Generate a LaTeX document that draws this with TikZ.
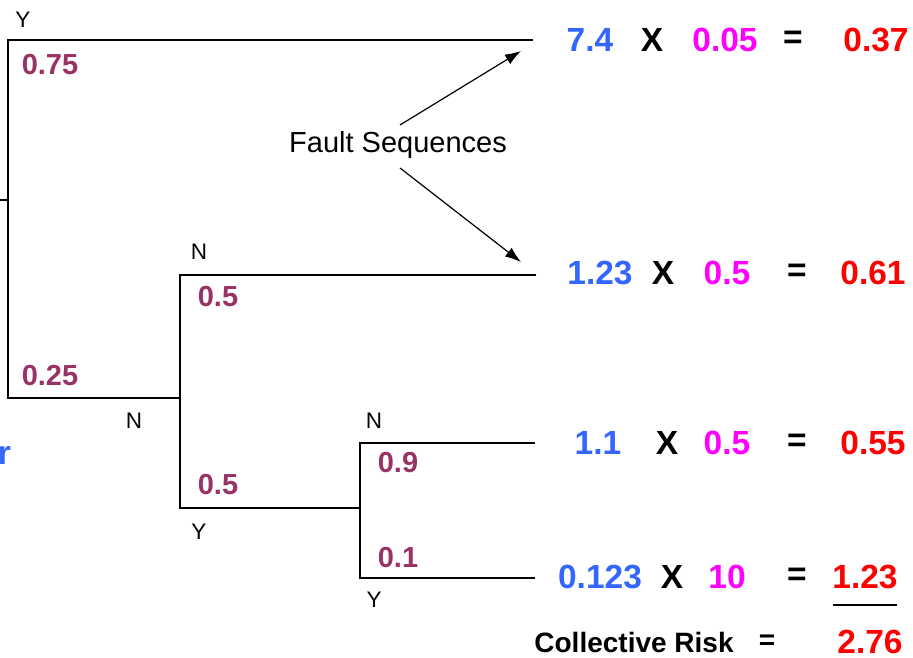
\documentclass[tikz,border=0pt]{standalone}
\usepackage{fontspec}
\setmainfont{Liberation Sans}
\usetikzlibrary{arrows.meta}
\definecolor{cblue}{HTML}{3366FF}
\definecolor{cmag}{HTML}{FF00FF}
\definecolor{cred}{HTML}{FF0000}
\definecolor{cmaroon}{HTML}{993366}
\tikzset{
  branch/.style={line width=1.3pt, black},
  prob/.style={font=\fontsize{29}{33}\selectfont\bfseries, text=cmaroon, inner sep=0pt},
  yn/.style={font=\fontsize{22.5}{26}\selectfont, inner sep=0pt},
  val/.style={font=\fontsize{33.5}{38}\selectfont\bfseries, inner sep=0pt},
  freq/.style={val, text=cblue},
  cons/.style={val, text=cmag},
  res/.style={val, text=cred},
  op/.style={val, text=black},
  lbl/.style={font=\fontsize{29}{33}\selectfont, inner sep=2pt},
  arr/.style={line width=1.2pt, -{Latex[length=16pt,width=11pt]}},
}
\begin{document}
\begin{tikzpicture}[x=1pt,y=-1pt]
\useasboundingbox (0,0) rectangle (913,658);
% tree coordinates
\coordinate (s0) at (0,200);
\coordinate (s1) at (8,200);
\coordinate (a0) at (8,40);
\coordinate (a1) at (533,40);
\coordinate (b0) at (8,398);
\coordinate (b1) at (180,398);
\coordinate (c0) at (180,275);
\coordinate (c1) at (536,275);
\coordinate (d0) at (180,508);
\coordinate (d1) at (360,508);
\coordinate (e0) at (360,443);
\coordinate (e1) at (535,443);
\coordinate (f0) at (360,578);
\coordinate (f1) at (535,578);
\draw[branch] (s0) -- (s1);
\draw[branch] (a1) -- (a0) -- (b0) -- (b1);
\draw[branch] (c1) -- (c0) -- (d0) -- (d1);
\draw[branch] (e1) -- (e0) -- (f0) -- (f1);
% branch labels
\node[yn] (y1) at (23,20) {Y};
\node[prob] (p1) at (50,65) {0.75};
\node[prob] (p2) at (50,376) {0.25};
\node[yn] (n1) at (134,421) {N};
\node[yn] (n2) at (199,252) {N};
\node[prob] (p3) at (218,297) {0.5};
\node[prob] (p4) at (218,485) {0.5};
\node[yn] (y2) at (199,532) {Y};
\node[yn] (n3) at (374,421) {N};
\node[prob] (p5) at (398,463) {0.9};
\node[prob] (p6) at (398,558) {0.1};
\node[yn] (y3) at (374,600) {Y};
\node[val, text=cblue, anchor=east] (r) at (11,455) {r};
% fault sequences
\node[lbl] (fs) at (398,145) {Fault Sequences};
\coordinate (t1) at (521,51);
\coordinate (t2) at (521,262);
\draw[arr] (400,125) -- (t1);
\draw[arr] (400,168) -- (t2);
% row 1
\node[freq] (r1a) at (590,40) {7.4};
\node[op] (r1x) at (652,40) {X};
\node[cons] (r1b) at (725,40) {0.05};
\node[op] (r1e) at (793,40) {=};
\node[res] (r1c) at (876,40) {0.37};
% row 2
\node[freq] (r2a) at (600,273) {1.23};
\node[op] (r2x) at (663,273) {X};
\node[cons] (r2b) at (727,273) {0.5};
\node[op] (r2e) at (797,273) {=};
\node[res] (r2c) at (873,273) {0.61};
% row 3
\node[freq] (r3a) at (598,443) {1.1};
\node[op] (r3x) at (667,443) {X};
\node[cons] (r3b) at (727,443) {0.5};
\node[op] (r3e) at (797,443) {=};
\node[res] (r3c) at (873,443) {0.55};
% row 4
\node[freq] (r4a) at (600,577) {0.123};
\node[op] (r4x) at (672,577) {X};
\node[cons] (r4b) at (727,577) {10};
\node[op] (r4e) at (797,577) {=};
\node[res] (r4c) at (865,577) {1.23};
\coordinate (u0) at (833,605);
\coordinate (u1) at (897,605);
\draw[line width=1.3pt] (u0) -- (u1);
% total
\node[font=\fontsize{28}{32}\selectfont\bfseries, inner sep=0pt] (cr) at (634,642) {Collective Risk};
\node[op, font=\fontsize{28}{32}\selectfont\bfseries] (ce) at (767,642) {=};
\node[res] (tot) at (870,642) {2.76};
\end{tikzpicture}
\end{document}
